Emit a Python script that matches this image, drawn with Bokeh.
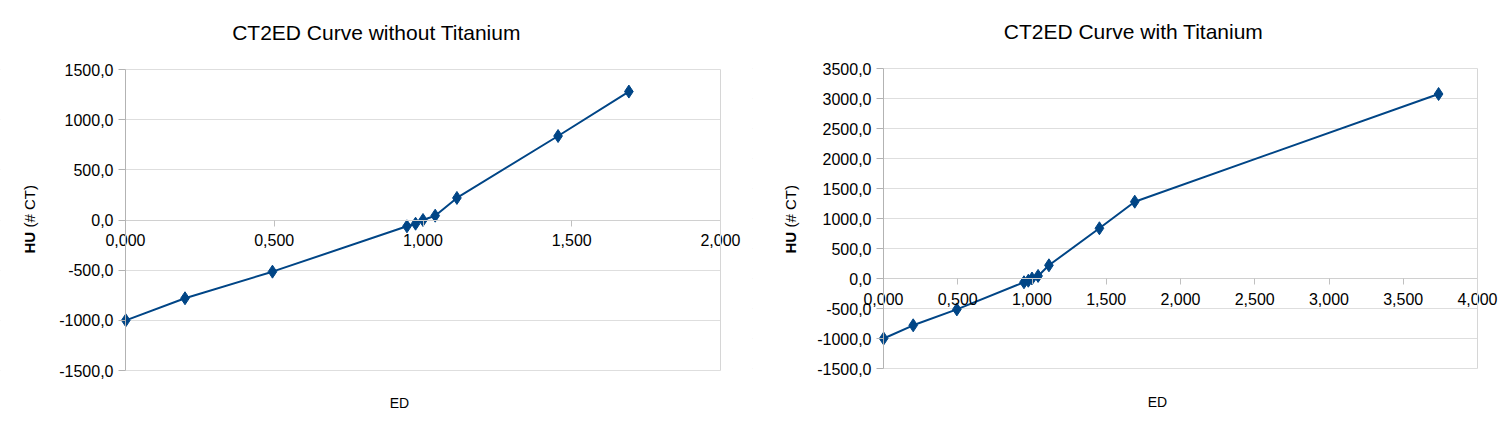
import math
from bokeh.plotting import figure
from bokeh.layouts import row
from bokeh.models import (Range1d, FixedTicker, CustomJSTickFormatter, Label,
                          LinearAxis, BoxAnnotation)
from bokeh.embed import file_html
from bokeh.resources import INLINE

# Data
ed = [0.001, 0.200, 0.494, 0.946, 0.975, 1.000, 1.041, 1.114, 1.454, 1.692]
hu = [-1000, -780, -515, -63, -37, 0, 43, 220, 837, 1280]
ti_ed = [3.738]
ti_hu = [3075]

x_ticks_left = [0.0, 0.5, 1.0, 1.5, 2.0]
y_ticks_left = [-1500, -1000, -500, 0, 500, 1000, 1500]
x_ticks_right = [0.0, 0.5, 1.0, 1.5, 2.0, 2.5, 3.0, 3.5, 4.0]
y_ticks_right = [-1500, -1000, -500, 0, 500, 1000, 1500, 2000, 2500, 3000, 3500]

title_left = "CT2ED Curve without Titanium"
title_right = "CT2ED Curve with Titanium"
x_label = "ED"
y_label_bold = "HU"
y_label_rest = "(# CT)"

FONT = "Liberation Sans"
BLUE = "#004586"
W = 752
H = 417


def make(xs, ys, xticks, yticks, box, title, title_pos, ed_pos, hu_pos):
    # box: pixel box (left, top, right, bottom) of the plotting wall inside the canvas
    l, t, r, b = box
    x0, x1 = xticks[0], xticks[-1]
    y0, y1 = yticks[0], yticks[-1]
    sx = (r - l) / (x1 - x0)
    sy = (b - t) / (y1 - y0)
    xr = Range1d(x0 - l / sx, x1 + (W - r) / sx)
    yr = Range1d(y0 - (H - b) / sy, y1 + t / sy)

    p = figure(width=W, height=H, x_range=xr, y_range=yr,
               output_backend="svg", toolbar_location=None, min_border=0)
    p.background_fill_color = "white"
    p.border_fill_color = "white"
    p.outline_line_color = None

    p.xgrid.visible = False
    p.ygrid.grid_line_color = "#dedede"

    # mask the grid outside the wall
    for kw in (dict(right=x0), dict(left=x1)):
        p.add_layout(BoxAnnotation(level="underlay", fill_color="white", fill_alpha=1.0,
                                   line_color=None, **kw))

    xa = p.xaxis[0]
    xa.fixed_location = 0
    xa.bounds = (x0, x1)
    xa.ticker = FixedTicker(ticks=xticks)
    xa.formatter = CustomJSTickFormatter(code="return tick.toFixed(3).replace('.', ',');")
    xa.axis_line_color = "#d0d0d0"
    xa.major_tick_line_color = "#c0c0c0"
    xa.minor_tick_line_color = None
    xa.major_tick_in = 0
    xa.major_tick_out = 6
    xa.major_label_standoff = 8
    xa.major_label_text_font = FONT
    xa.major_label_text_font_size = "16px"
    xa.major_label_text_color = "#000000"

    ya = p.yaxis[0]
    ya.fixed_location = 0
    ya.bounds = (y0, y1)
    ya.ticker = FixedTicker(ticks=yticks)
    ya.formatter = CustomJSTickFormatter(code="return tick.toFixed(1).replace('.', ',');")
    ya.axis_line_color = "#b3b3b3"
    ya.major_tick_line_color = "#b3b3b3"
    ya.minor_tick_line_color = None
    ya.major_tick_in = 0
    ya.major_tick_out = 7
    ya.major_label_standoff = 5
    ya.major_label_text_font = FONT
    ya.major_label_text_font_size = "16px"
    ya.major_label_text_color = "#000000"

    # right wall border
    rb = LinearAxis(fixed_location=x1, bounds=(y0, y1), ticker=FixedTicker(ticks=[]),
                    axis_line_color="#d6d6d6", major_tick_line_color=None,
                    minor_tick_line_color=None)
    p.add_layout(rb, "right")

    p.line(xs, ys, line_color=BLUE, line_width=2)
    p.scatter(xs, ys, marker="diamond", size=13, fill_color=BLUE, line_color=BLUE)

    p.add_layout(Label(x=title_pos[0], y=H - title_pos[1], x_units="screen", y_units="screen",
                       text=title, text_font=FONT, text_font_size="21px",
                       text_color="#000000", text_align="center",
                       text_baseline="middle"))
    p.add_layout(Label(x=ed_pos[0], y=H - ed_pos[1], x_units="screen", y_units="screen",
                       text=x_label, text_font=FONT, text_font_size="14px",
                       text_color="#000000", text_align="center",
                       text_baseline="middle"))
    p.add_layout(Label(x=hu_pos[0], y=H - hu_pos[1], x_units="screen", y_units="screen",
                       angle=math.pi / 2, text=y_label_bold, text_font=FONT,
                       text_font_size="15px", text_font_style="bold",
                       text_color="#000000", text_align="left",
                       text_baseline="middle"))
    p.add_layout(Label(x=hu_pos[0], y=H - hu_pos[1] + 26, x_units="screen", y_units="screen",
                       angle=math.pi / 2, text=y_label_rest, text_font=FONT,
                       text_font_size="15px",
                       text_color="#000000", text_align="left",
                       text_baseline="middle"))
    return p


p1 = make(ed, hu, x_ticks_left, y_ticks_left, (125, 69, 720, 370),
          title_left, (376, 32), (399, 402), (29, 253))
p2 = make(ed + ti_ed, hu + ti_hu, x_ticks_right, y_ticks_right, (131, 68, 725, 368),
          title_right, (381, 31), (405, 401), (37.5, 253))

layout = row(p1, p2)
open("out.html", "w").write(file_html(layout, INLINE))
